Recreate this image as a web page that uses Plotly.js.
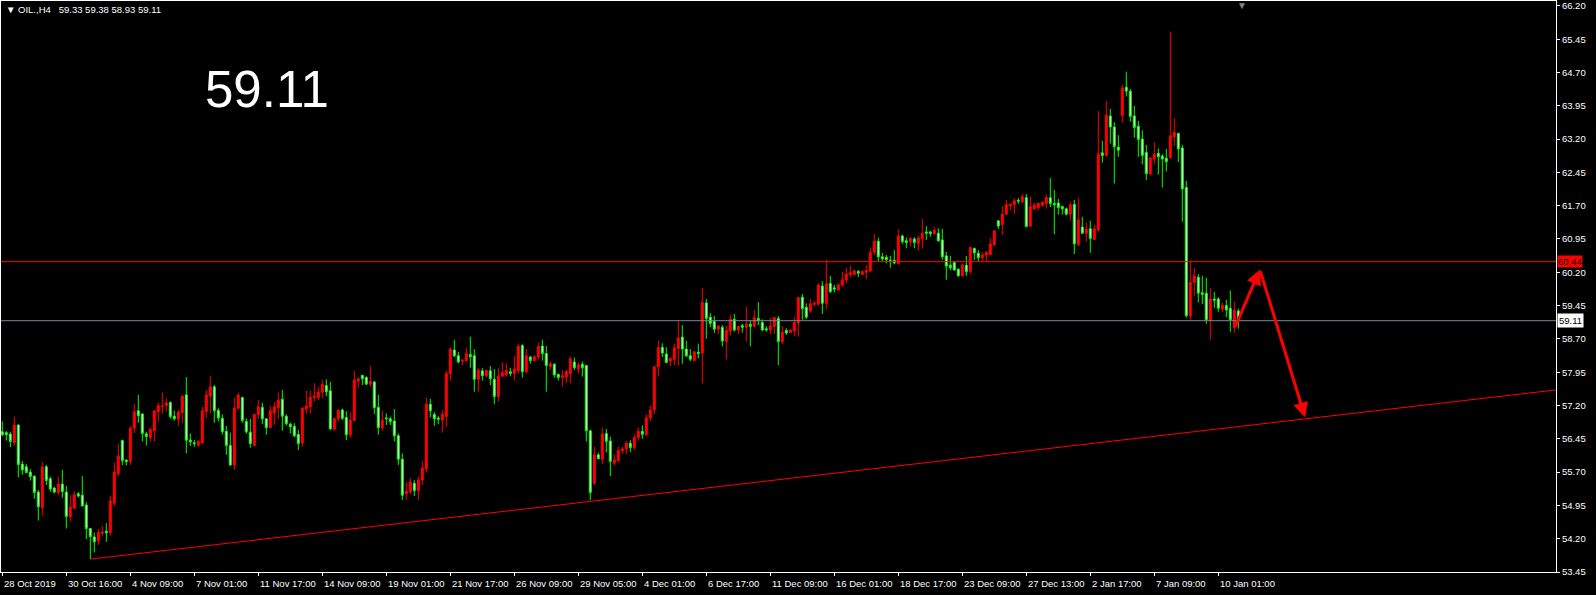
<!DOCTYPE html>
<html><head><meta charset="utf-8">
<script src="https://cdn.plot.ly/plotly-3.0.1.min.js"></script>
<style>html,body{margin:0;padding:0;background:#000;overflow:hidden}#chart{width:1596px;height:595px}</style>
</head><body><div id="chart"></div><script>
// OHLC of OIL., H4 — one value per bar
const openP = [
56.61,56.59,56.56,56.36,56.76,55.88,55.82,55.70,55.61,55.25,
54.90,55.82,55.55,55.34,55.24,55.43,55.25,54.70,54.89,55.21,
55.18,54.96,54.43,54.24,54.15,54.32,54.37,54.34,55.00,55.67,
56.41,55.97,55.94,56.69,57.08,57.01,56.56,56.48,56.63,57.06,
57.17,57.20,57.27,56.96,56.90,57.04,57.44,56.42,56.36,56.31,
56.36,57.06,57.41,57.62,57.09,56.91,56.62,56.30,55.86,57.14,
57.38,56.84,56.60,56.30,56.99,57.16,56.90,56.70,57.03,57.15,
57.34,56.96,56.78,56.73,56.55,56.36,57.12,57.17,57.38,57.38,
57.50,57.65,57.53,56.67,56.90,57.10,56.93,56.54,56.86,57.75,
57.88,57.83,57.68,57.73,57.16,56.70,56.92,56.90,56.85,56.52,
55.99,55.21,55.25,55.45,55.28,55.52,55.77,57.23,57.00,56.92,
56.87,56.95,57.92,58.45,58.32,58.20,58.21,58.35,58.32,57.79,
57.98,57.87,57.98,57.79,57.40,57.86,57.89,57.96,57.92,57.98,
58.55,57.96,58.29,58.21,58.29,58.54,58.37,58.08,58.13,57.90,
57.83,57.84,57.92,58.18,58.02,58.13,58.10,56.63,55.45,56.09,
55.99,56.57,56.40,55.90,55.96,56.18,56.22,56.35,56.25,56.48,
56.62,56.55,56.92,57.10,58.07,58.51,58.36,58.20,58.24,58.48,
58.74,58.47,58.32,58.21,58.40,58.38,59.51,59.19,59.10,58.92,
58.96,58.64,58.88,59.14,58.90,59.00,58.96,59.03,58.98,59.16,
59.07,58.93,58.90,58.98,59.16,58.64,58.89,58.84,58.88,59.06,
59.64,59.41,59.33,59.48,59.48,59.89,59.50,59.95,59.85,59.80,
59.91,60.03,60.15,60.15,60.22,60.15,60.20,60.23,60.65,60.90,
60.55,60.54,60.47,60.47,60.40,61.02,60.91,60.89,60.95,60.85,
60.96,61.11,61.11,61.07,61.08,60.93,60.57,60.36,60.42,60.27,
60.12,60.36,60.22,60.74,60.63,60.53,60.59,60.60,60.82,61.36,
61.27,61.51,61.70,61.72,61.82,61.79,61.88,61.24,61.63,61.66,
61.71,61.75,61.88,61.75,61.76,61.68,61.63,61.51,61.73,60.82,
61.22,61.08,61.18,60.94,61.15,62.89,62.83,63.72,63.47,63.02,
63.73,64.37,64.28,63.72,63.49,63.20,62.90,62.42,62.75,62.88,
62.82,62.77,62.78,63.25,63.33,63.00,62.11,59.22,59.97,60.09,
59.74,59.73,59.11,59.60,59.60,59.37,59.45,59.39,58.95,59.33
];
const highP = [
56.84,56.63,56.61,56.95,56.78,55.95,55.88,55.77,55.62,55.30,
55.93,55.86,55.60,55.37,55.60,55.75,55.39,55.18,55.27,55.25,
55.61,55.02,54.44,54.34,54.42,54.49,54.55,55.17,55.91,56.34,
56.43,55.99,56.74,57.23,57.44,57.02,56.61,56.70,57.10,57.26,
57.50,57.36,57.29,57.08,57.10,57.44,57.84,56.57,56.42,56.42,
57.17,57.55,57.86,57.66,57.14,57.00,56.74,56.59,57.38,57.49,
57.40,56.91,56.90,57.01,57.32,57.26,56.91,57.19,57.28,57.49,
57.55,57.00,56.81,56.80,56.65,57.16,57.53,57.53,57.70,57.61,
57.77,57.79,57.73,56.93,57.12,57.13,57.07,57.05,57.98,57.85,
57.89,57.86,58.09,57.75,57.44,57.08,57.02,56.95,57.12,56.57,
56.12,55.48,55.57,55.52,55.60,55.95,57.38,57.35,57.05,56.96,
57.10,57.98,58.51,58.68,58.41,58.24,58.51,58.75,58.47,58.04,
58.04,58.01,58.09,58.02,58.04,58.17,58.15,58.05,58.32,58.58,
58.58,58.47,58.32,58.33,58.62,58.68,58.54,58.19,58.15,57.92,
58.00,58.01,58.30,58.28,58.17,58.19,58.11,56.65,56.27,56.14,
56.70,56.67,56.50,56.09,56.27,56.27,56.40,56.42,56.55,56.70,
56.75,57.00,57.20,58.09,58.66,58.60,58.51,58.28,58.59,59.10,
59.01,58.66,58.47,58.43,58.59,59.85,59.60,59.28,59.22,59.00,
59.01,58.99,59.24,59.26,58.99,59.04,59.42,59.11,59.35,59.53,
59.14,58.99,59.18,59.20,59.22,58.99,58.94,58.91,59.20,59.64,
59.71,59.50,59.60,59.55,59.95,60.00,60.48,60.12,59.92,59.95,
60.21,60.30,60.34,60.27,60.25,60.25,60.36,60.76,61.06,60.98,
60.64,60.59,60.57,60.70,61.17,61.05,60.98,60.99,60.99,61.02,
61.40,61.24,61.13,61.22,61.19,61.18,60.66,60.57,60.44,60.29,
60.40,60.57,60.78,60.75,60.70,60.65,60.67,60.97,61.15,61.37,
61.68,61.83,61.75,61.87,61.87,61.97,61.96,61.90,61.77,61.77,
61.81,61.96,62.32,62.05,61.85,61.70,61.66,61.79,61.83,61.88,
61.45,61.32,61.36,61.27,63.83,63.16,64.06,63.88,63.58,63.29,
64.42,64.72,64.33,63.95,63.61,63.40,63.07,62.80,63.13,62.99,
62.86,62.98,65.62,63.67,63.34,63.07,62.26,60.44,60.30,60.16,
60.12,60.08,59.84,59.76,59.64,59.52,59.58,59.79,59.54,59.38
];
const lowP = [
56.51,56.41,56.26,56.29,55.58,55.64,55.67,55.51,55.10,54.61,
54.72,55.41,55.26,55.22,55.18,55.12,54.43,54.58,54.86,55.13,
54.92,54.19,53.74,53.89,54.06,54.27,54.13,54.27,54.94,55.61,
55.86,55.85,55.86,56.58,56.81,56.39,56.30,56.39,56.39,56.84,
57.01,57.06,56.90,56.86,56.74,56.80,56.12,56.29,56.27,56.27,
56.33,56.91,57.02,56.81,56.84,56.54,56.09,55.84,55.75,57.10,
56.81,56.56,56.25,56.29,56.90,56.78,56.54,56.69,56.76,56.90,
56.63,56.75,56.57,56.48,56.20,56.27,57.02,57.02,57.29,57.32,
57.37,57.41,56.65,56.63,56.84,56.87,56.42,56.47,56.85,57.60,
57.66,57.66,57.62,57.01,56.54,56.63,56.76,56.76,56.39,55.86,
55.07,55.07,55.21,55.16,55.07,55.41,55.70,56.93,56.74,56.78,
56.59,56.72,57.75,58.29,58.15,58.10,58.19,58.05,57.51,57.51,
57.76,57.83,57.66,57.23,57.29,57.85,57.85,57.86,57.76,57.92,
57.83,57.92,58.14,58.19,58.23,58.21,57.51,58.00,57.83,57.76,
57.62,57.70,57.70,58.00,57.92,57.85,56.39,55.07,55.41,55.99,
55.88,56.14,55.61,55.84,55.92,56.11,56.10,56.15,56.20,56.40,
56.45,56.50,56.85,57.00,57.85,58.29,58.15,58.09,58.11,58.09,
58.14,58.29,58.20,58.20,58.26,57.70,58.70,58.96,58.83,58.81,
58.53,58.24,58.77,58.86,58.81,58.84,58.64,58.53,58.96,59.01,
58.88,58.86,58.81,58.81,58.11,58.58,58.79,58.83,58.77,58.75,
59.13,59.15,59.28,59.43,59.45,59.26,59.37,59.74,59.75,59.79,
59.88,59.95,60.08,60.12,60.09,60.14,60.04,60.21,60.59,60.45,
60.44,60.40,60.30,60.38,60.38,60.84,60.74,60.78,60.74,60.69,
60.73,60.93,61.00,61.05,60.89,60.48,60.03,60.25,60.24,60.10,
60.10,60.12,60.16,60.48,60.45,60.45,60.45,60.58,60.79,61.18,
61.04,61.49,61.59,61.51,61.74,61.75,61.21,61.23,61.60,61.60,
61.68,61.63,61.67,61.06,61.50,61.50,61.48,61.36,60.61,60.79,
61.06,60.89,60.64,60.93,61.12,62.67,62.80,63.10,62.20,62.80,
63.57,64.16,63.59,63.23,62.80,62.63,62.28,62.38,62.63,62.40,
62.11,62.47,62.77,63.04,62.68,61.34,59.18,59.13,59.67,59.52,
59.48,59.04,58.68,59.40,59.31,59.30,59.19,58.86,58.84,58.93
];
const closeP = [
56.54,56.54,56.39,56.76,55.87,55.75,55.69,55.60,55.24,54.92,
55.82,55.51,55.32,55.25,55.43,55.26,54.70,54.91,55.19,55.16,
54.94,54.43,54.25,54.13,54.34,54.35,54.33,55.05,55.70,56.06,
55.96,55.94,56.69,57.06,56.97,56.57,56.50,56.66,57.08,57.20,
57.19,57.26,56.95,56.90,57.05,57.41,56.42,56.38,56.34,56.39,
57.08,57.44,57.62,57.08,56.92,56.61,56.30,55.86,57.14,57.43,
56.86,56.61,56.34,57.00,57.17,56.90,56.70,57.08,57.17,57.32,
56.96,56.79,56.72,56.52,56.34,57.14,57.19,57.38,57.41,57.50,
57.68,57.51,56.67,56.90,57.09,56.91,56.54,56.87,57.77,57.80,
57.80,57.68,57.74,57.15,56.70,56.87,56.90,56.84,56.52,55.99,
55.18,55.27,55.48,55.28,55.52,55.79,57.23,57.08,56.90,56.89,
57.00,57.92,58.47,58.32,58.18,58.22,58.37,58.30,57.79,58.00,
57.87,57.99,57.80,57.40,57.86,57.94,57.99,57.92,58.02,58.53,
57.96,58.32,58.21,58.30,58.53,58.37,58.10,58.14,57.89,57.83,
57.87,57.96,58.25,58.05,58.11,58.05,56.63,55.24,56.09,56.00,
56.56,56.39,55.94,55.97,56.18,56.22,56.35,56.25,56.48,56.62,
56.55,56.92,57.10,58.07,58.50,58.38,58.17,58.26,58.50,58.72,
58.47,58.32,58.24,58.41,58.37,59.52,59.16,59.05,58.92,58.99,
58.65,58.89,59.14,58.90,58.98,58.96,59.03,58.98,59.18,59.11,
58.90,58.90,58.99,59.18,58.64,58.85,58.83,58.90,59.07,59.63,
59.38,59.19,59.49,59.50,59.91,59.50,59.94,59.76,59.82,59.91,
60.03,60.16,60.19,60.23,60.18,60.21,60.24,60.65,60.90,60.55,
60.50,60.48,60.45,60.41,61.02,60.89,60.87,60.96,60.87,60.97,
61.08,61.08,61.07,61.15,60.91,60.55,60.34,60.30,60.25,60.12,
60.37,60.21,60.76,60.64,60.53,60.59,60.65,60.84,61.13,61.24,
61.51,61.72,61.73,61.81,61.80,61.90,61.23,61.68,61.71,61.75,
61.77,61.88,61.75,61.72,61.66,61.63,61.51,61.72,60.84,61.38,
61.08,61.17,60.96,61.18,62.86,62.83,63.74,63.47,63.03,62.95,
64.35,64.28,63.71,63.46,63.19,62.83,62.42,62.77,62.86,62.80,
62.75,62.69,63.27,63.35,62.98,62.08,59.22,59.97,60.12,59.73,
59.70,59.13,59.60,59.57,59.39,59.46,59.35,59.13,59.34,59.11
];
// time-axis labels, one every 16 bars
const timeLabels = ['28 Oct 2019','30 Oct 16:00','4 Nov 09:00','7 Nov 01:00','11 Nov 17:00','14 Nov 09:00',
 '19 Nov 01:00','21 Nov 17:00','26 Nov 09:00','29 Nov 05:00','4 Dec 01:00','6 Dec 17:00','11 Dec 09:00',
 '16 Dec 01:00','18 Dec 17:00','23 Dec 09:00','27 Dec 13:00','2 Jan 17:00','7 Jan 09:00','10 Jan 01:00'];
const labelStep = 16;
// price scale labels
const priceTicks = [53.45,54.20,54.95,55.70,56.45,57.20,57.95,58.70,59.45,60.20,60.95,61.70,62.45,63.20,63.95,64.70,65.45,66.20];
// drawn objects
const levelRed = 60.44;
const levelLast = 59.11;
const trendBars = [22, 388.4];
const trendPrices = [53.74, 57.55];
const arrowBars = [308.1, 314.4, 325.7];
const arrowPrices = [58.95, 60.26, 56.93];
const headerText = '\u25BC OIL.,H4\u00a0\u00a0 59.33 59.38 58.93 59.11';
const bigLabel = '59.11';
const shiftBar = 310;   // chart-shift marker sits just after the last bar

const bars = openP.map((_, i) => i);
const tickBars = timeLabels.map((_, i) => i * labelStep);
const FONT = 'Liberation Sans, Arial, sans-serif';

const trace = {
  type: 'candlestick', x: bars, open: openP, high: highP, low: lowP, close: closeP,
  increasing: {line: {color: '#ff0000', width: 1}, fillcolor: '#ff0000'},
  decreasing: {line: {color: '#00ff00', width: 1}, fillcolor: '#ffffff'},
  whiskerwidth: 0, hoverinfo: 'none'
};

const timeAnnotations = timeLabels.map((t, i) => ({
  xref: 'x', yref: 'paper', x: tickBars[i], y: 0, xanchor: 'left', yanchor: 'top',
  xshift: 0, yshift: -4, text: t, showarrow: false,
  font: {family: FONT, size: 9.5, color: '#ffffff'}
}));

const layout = {
  width: 1596, height: 595,
  margin: {l: 1, r: 40, t: 1, b: 23},
  paper_bgcolor: '#000000', plot_bgcolor: '#000000',
  showlegend: false,
  font: {family: FONT, size: 10, color: '#ffffff'},
  xaxis: {
    range: [-0.325, 388.425], rangeslider: {visible: false},
    tickvals: tickBars, showticklabels: false,
    ticks: 'outside', ticklen: 3, tickcolor: '#ffffff',
    showgrid: false, zeroline: false, showline: true, linecolor: '#ffffff', linewidth: 1, mirror: true,
    fixedrange: true
  },
  yaxis: {
    side: 'right', range: [53.45, 66.31],
    tickvals: priceTicks, tickformat: '.2f',
    ticks: 'outside', ticklen: 3, tickcolor: '#ffffff',
    tickfont: {family: FONT, size: 9.5, color: '#ffffff'},
    showgrid: false, zeroline: false, showline: true, linecolor: '#ffffff', linewidth: 1, mirror: true,
    fixedrange: true
  },
  shapes: [
    {type: 'line', xref: 'paper', x0: 0, x1: 1, yref: 'y', y0: levelRed, y1: levelRed, line: {color: '#ff0000', width: 1}},
    {type: 'line', xref: 'paper', x0: 0, x1: 1, yref: 'y', y0: levelLast, y1: levelLast, line: {color: '#778899', width: 1}},
    {type: 'line', xref: 'x', yref: 'y', x0: trendBars[0], x1: trendBars[1], y0: trendPrices[0], y1: trendPrices[1], line: {color: '#ff0000', width: 1}}
  ],
  annotations: [
    {xref: 'x', yref: 'y', axref: 'x', ayref: 'y', x: arrowBars[1], y: arrowPrices[1], ax: arrowBars[0], ay: arrowPrices[0],
     showarrow: true, arrowcolor: '#ff0000', arrowwidth: 3, arrowhead: 2, arrowsize: 1, text: ''},
    {xref: 'x', yref: 'y', axref: 'x', ayref: 'y', x: arrowBars[2], y: arrowPrices[2], ax: arrowBars[1], ay: arrowPrices[1],
     showarrow: true, arrowcolor: '#ff0000', arrowwidth: 3, arrowhead: 2, arrowsize: 1, text: ''},
    {xref: 'paper', yref: 'paper', x: 0, y: 1, xanchor: 'left', yanchor: 'top', xshift: 3, yshift: -1,
     text: headerText, showarrow: false, font: {family: FONT, size: 9.5, color: '#ffffff'}},
    {xref: 'paper', yref: 'paper', x: 0.13, y: 0.845, xanchor: 'left', yanchor: 'middle',
     text: bigLabel, showarrow: false, font: {family: FONT, size: 51, color: '#ffffff'}},
    {xref: 'x', yref: 'paper', x: shiftBar, y: 1, xanchor: 'center', yanchor: 'top', yshift: 3,
     text: '\u25BC', showarrow: false, font: {family: FONT, size: 10, color: '#808080'}},
    {xref: 'paper', yref: 'y', x: 1, y: levelRed, xanchor: 'left', yanchor: 'middle', xshift: 1,
     text: levelRed.toFixed(2), showarrow: false, bgcolor: '#ff0000', borderpad: 0,
     font: {family: FONT, size: 9.5, color: '#000000'}},
    {xref: 'paper', yref: 'y', x: 1, y: levelLast, xanchor: 'left', yanchor: 'middle', xshift: 1,
     text: levelLast.toFixed(2), showarrow: false, bgcolor: '#ffffff', borderpad: 1,
     font: {family: FONT, size: 9.5, color: '#000000'}}
  ].concat(timeAnnotations)
};

Plotly.newPlot('chart', [trace], layout, {displayModeBar: false, staticPlot: true});
</script></body></html>
